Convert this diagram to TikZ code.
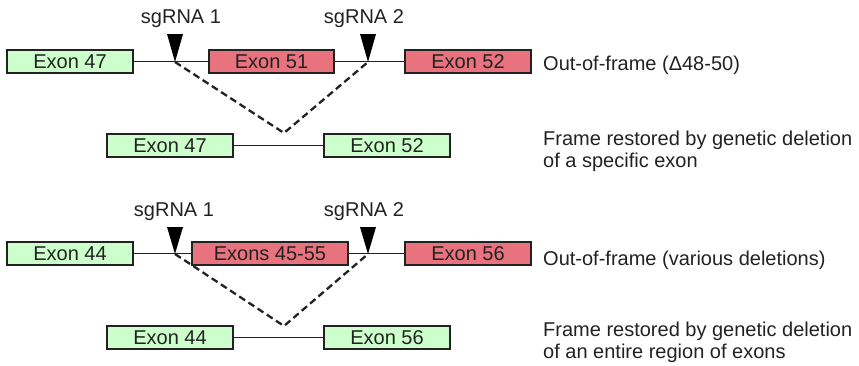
\documentclass[tikz,border=0pt]{standalone}
\usepackage{fontspec}
\setmainfont{Liberation Sans}
\definecolor{exgreen}{HTML}{CCFFCC}
\definecolor{exred}{HTML}{E8737F}
\definecolor{ink}{HTML}{222222}
\begin{document}
\begin{tikzpicture}[x=1pt,y=-1pt,
  txt/.style={font=\fontsize{20}{22}\selectfont, text=ink, inner sep=0pt},
  exon/.style={draw=ink, line width=1.6pt, minimum height=23pt, inner sep=0pt,
    font=\fontsize{20}{22}\selectfont, text=ink, text height=14.3pt, text depth=0pt},
  gexon/.style={exon, fill=exgreen},
  rexon/.style={exon, fill=exred},
  intron/.style={draw=ink, line width=1.3pt},
  cut/.style={draw=ink, line width=2.3pt, dash pattern=on 7pt off 4pt},
  sgfill/.style={fill=black}
]
\useasboundingbox (0,0) rectangle (859,365);

% ---------- block 1 ----------
\node[gexon, minimum width=126pt] (a47) at (70,61.5) {Exon 47};
\node[rexon, minimum width=125pt] (a51) at (271.5,61.5) {Exon 51};
\node[rexon, minimum width=126pt] (a52) at (468,61.5) {Exon 52};
\draw[intron] (a47.east) -- (a51.west);
\draw[intron] (a51.east) -- (a52.west);

\coordinate (s1) at (175,62);
\coordinate (s2) at (368,62);
\coordinate (v1) at (284,133);
\draw[cut] (s1) -- (v1) -- (s2);
\fill[sgfill] (s1) -- ++(-8,-28) -- ++(16,0) -- cycle;
\fill[sgfill] (s2) -- ++(-8,-28) -- ++(16,0) -- cycle;
\node[txt] (l1) at (181,19) {sgRNA 1};
\node[txt] (l2) at (364,19) {sgRNA 2};

\node[gexon, minimum width=126pt] (b47) at (170,145.5) {Exon 47};
\node[gexon, minimum width=126pt] (b52) at (387,145.5) {Exon 52};
\draw[intron] (b47.east) -- (b52.west);

\node[txt, anchor=base west] (t1) at (543,70.7) {Out-of-frame (Δ48-50)};
\node[txt, anchor=base west] (t2) at (543,145.7) {Frame restored by genetic deletion};
\node[txt, anchor=base west] (t3) at (543,167.7) {of a specific exon};

% ---------- block 2 ----------
\node[gexon, minimum width=126pt] (c44) at (70,253.5) {Exon 44};
\node[rexon, minimum width=156pt] (c45) at (270,253.5) {Exons 45-55};
\node[rexon, minimum width=126pt] (c56) at (468,253.5) {Exon 56};
\draw[intron] (c44.east) -- (c45.west);
\draw[intron] (c45.east) -- (c56.west);

\coordinate (u1) at (175,254);
\coordinate (u2) at (368,254);
\coordinate (v2) at (284,326);
\draw[cut] (u1) -- (v2) -- (u2);
\fill[sgfill] (u1) -- ++(-8,-27) -- ++(16,0) -- cycle;
\fill[sgfill] (u2) -- ++(-8,-27) -- ++(16,0) -- cycle;
\node[txt] (m1) at (174,212) {sgRNA 1};
\node[txt] (m2) at (364,212) {sgRNA 2};

\node[gexon, minimum width=126pt] (d44) at (170,337.5) {Exon 44};
\node[gexon, minimum width=126pt] (d56) at (387,337.5) {Exon 56};
\draw[intron] (d44.east) -- (d56.west);

\node[txt, anchor=base west] (w1) at (543,265) {Out-of-frame (various deletions)};
\node[txt, anchor=base west] (w2) at (543,336.7) {Frame restored by genetic deletion};
\node[txt, anchor=base west] (w3) at (543,358.3) {of an entire region of exons};
\end{tikzpicture}
\end{document}
